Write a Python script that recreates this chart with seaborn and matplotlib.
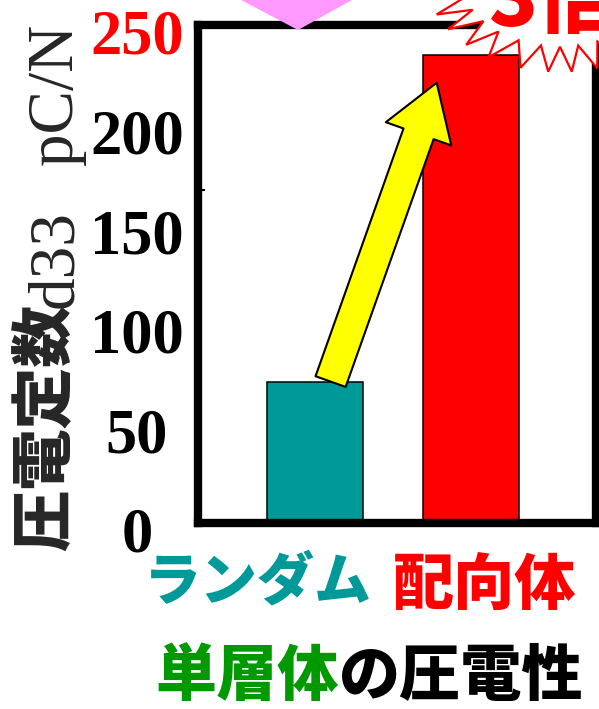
import matplotlib
matplotlib.use('Agg')
import matplotlib.pyplot as plt
import seaborn as sns
import numpy as np
import pandas as pd
from matplotlib.patches import Polygon, FancyArrowPatch, ArrowStyle
from matplotlib import transforms

# ---- data ----
categories = ['ランダム', '配向体']
d33_values = [71, 235]
bar_colors = ['#009999', '#FF0000']
label_colors = ['#009999', '#FF0000']
ytick_values = [0, 50, 100, 150, 200, 250]
ytick_labels = ['0', '50', '100', '150', '200', '250']
stray_tick = [167]
ylabel_jp = '圧電定数'
ylabel_sym = 'd33'
ylabel_unit = 'pC/N'
title_green = '単層体'
title_black = 'の圧電性'
ratio_text = '3倍'

W, H = 599, 709
sns.set_style('white')
plt.rcParams['font.family'] = ['Noto Sans CJK JP', 'DejaVu Sans']

fig = plt.figure(figsize=(W / 100, H / 100), dpi=100)
fig.patch.set_facecolor('white')

def fx(x):
    return x / W

def fy(y):
    return 1 - y / H

ax = fig.add_axes([fx(197.5), fy(523), (596 - 197.5) / W, (523 - 25) / H])
df = pd.DataFrame({'cat': categories, 'val': d33_values})
sns.barplot(data=df, x='cat', y='val', hue='cat', palette=bar_colors,
            legend=False, width=0.615, edgecolor='black', linewidth=1.1,
            saturation=1, ax=ax, zorder=2)

ax.set_xlim(-0.753, 1.801)
ax.set_ylim(0, 250)
ax.set_xlabel('')
ax.set_ylabel('')
for s in ax.spines.values():
    s.set_visible(True)
    s.set_linewidth(6)
    s.set_color('black')
    s.set_zorder(3)

# y ticks
ax.set_yticks(ytick_values)
ax.set_yticklabels(ytick_labels, fontfamily='Liberation Serif',
                   fontweight='bold', fontsize=45)
ax.tick_params(axis='y', which='major', length=0, pad=43.6, left=True)
ax.set_yticks(stray_tick, minor=True)
ax.tick_params(axis='y', which='minor', direction='in', length=5,
               width=1.5, left=True, color='black')

# x ticks
ax.set_xticks(range(len(categories)))
ax.set_xticklabels(categories, fontweight='black',
                   family=['Noto Sans CJK JP'])
ax.tick_params(axis='x', which='major', length=0, pad=23, bottom=True)

x_shift_px = [-57, 14]
x_sizes = [41, 44]
for lab, col, dx, fs in zip(ax.get_xticklabels(), label_colors, x_shift_px, x_sizes):
    lab.set_color(col)
    lab.set_fontsize(fs)
    lab.set_transform(lab.get_transform() +
                      transforms.ScaledTranslation(dx / 100, 0, fig.dpi_scale_trans))

ylabs = ax.get_yticklabels()
for i, lab in enumerate(ylabs):
    lab.set_ha('center')
    lab.set_color('#FF0000' if ytick_values[i] == 250 else 'black')
    lab.set_transform(lab.get_transform() +
                      transforms.ScaledTranslation(0, -7 / 100, fig.dpi_scale_trans))

# yellow arrow from random bar to oriented bar
arrow = FancyArrowPatch(posA=(0 + 0.1, d33_values[0]),
                        posB=(1 - 0.22, d33_values[1] - 14),
                        arrowstyle=ArrowStyle.Simple(head_length=39, head_width=50, tail_width=23),
                        mutation_scale=1, facecolor='#FFFF00', edgecolor='black',
                        linewidth=1.5, shrinkA=0, shrinkB=0, zorder=5)
ax.add_patch(arrow)

# y-axis label (rotated, mixed fonts)
fig.text(fx(46.5), fy(551), ylabel_jp, rotation=90, rotation_mode='anchor',
         ha='left', va='center', fontsize=44.5, fontweight='black',
         family=['Noto Sans CJK JP'])
fig.text(fx(72), fy(308), ylabel_sym, rotation=90, rotation_mode='anchor',
         ha='left', va='baseline', fontsize=47, family=['Liberation Serif'])
fig.text(fx(72), fy(165), ylabel_unit, rotation=90, rotation_mode='anchor',
         ha='left', va='baseline', fontsize=47, family=['Liberation Serif'])

# bottom title
fig.text(fx(339), fy(677), title_green, ha='right', va='center', fontsize=44,
         fontweight='black', color='#009900', family=['Noto Sans CJK JP'])
fig.text(fx(339), fy(677), title_black, ha='left', va='center', fontsize=44,
         fontweight='black', color='black', family=['Noto Sans CJK JP'])

# pink arrow tip at top
pink = [(184, -30), (406, -30), (298, 30)]
fig.add_artist(Polygon([(fx(x), fy(y)) for x, y in pink], closed=True,
                       transform=fig.transFigure, facecolor='#FF99FF',
                       edgecolor='none', zorder=4))

# starburst at top right
cx, cy, rx, ry, inner = 560, -25, 135, 97, 0.74
tips = [168, 156, 146, 134, 122, 107, 95, 85, 74, 62, 50, 38, 26, 14, 2,
        -10, -30, -60, -90, -120, -150, -180]
pts = []
for i, t in enumerate(tips):
    tr = np.deg2rad(t)
    pts.append((cx + rx * np.cos(tr), cy + ry * np.sin(tr)))
    if i < len(tips) - 1:
        m = np.deg2rad((t + tips[i + 1]) / 2)
        pts.append((cx + rx * inner * np.cos(m), cy + ry * inner * np.sin(m)))
fig.add_artist(Polygon([(fx(x), fy(y)) for x, y in pts], closed=True,
                       transform=fig.transFigure, facecolor='white',
                       edgecolor='#FF0000', linewidth=1.6, zorder=5))
fig.text(fx(488), fy(26), ratio_text, ha='left', va='baseline', fontsize=58,
         fontweight='black', color='#FF0000', family=['Noto Sans CJK JP'], zorder=6)

fig.savefig('out.png', dpi=100)
